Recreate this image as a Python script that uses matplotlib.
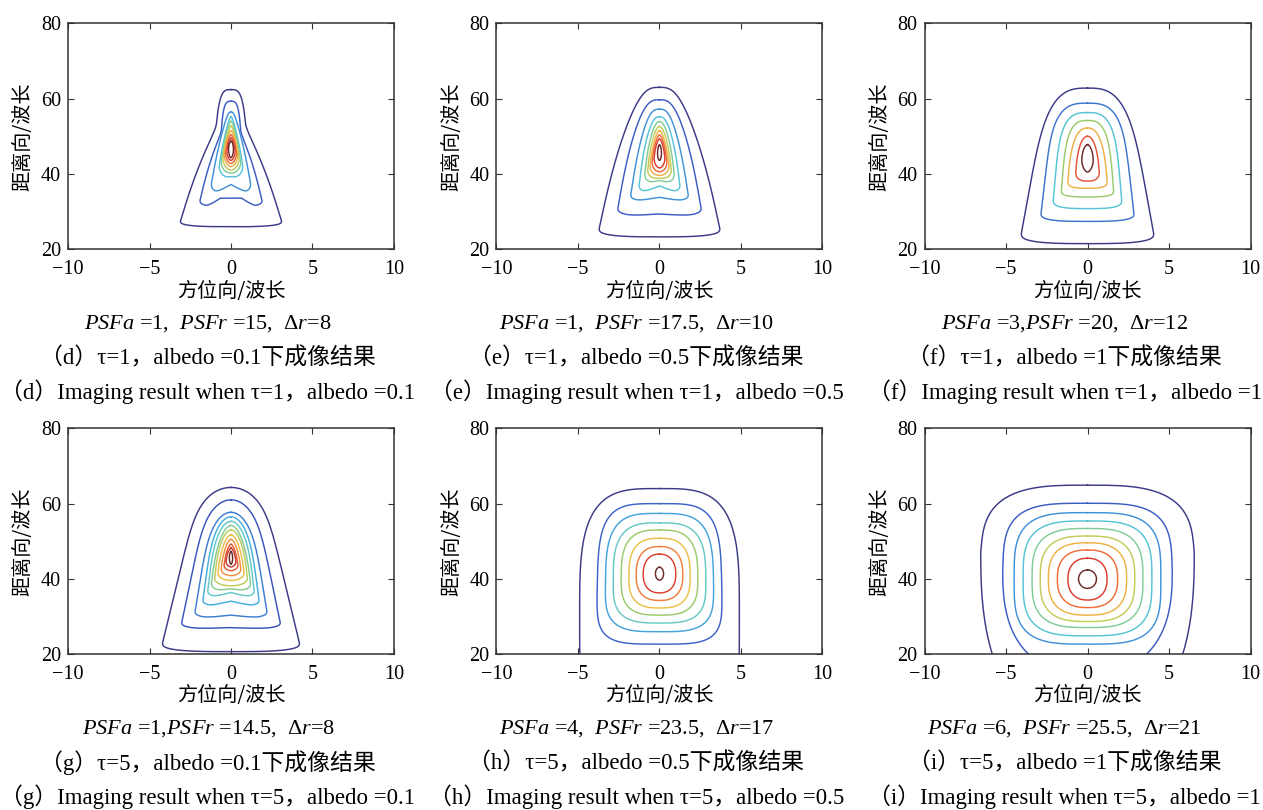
import numpy as np
import matplotlib
matplotlib.use("Agg")
import matplotlib.pyplot as plt
from matplotlib.colors import LinearSegmentedColormap

plt.rcParams['mathtext.fontset'] = 'custom'
plt.rcParams['mathtext.rm'] = 'Liberation Serif'
plt.rcParams['mathtext.it'] = 'Liberation Serif:italic'

SERIF = ['Liberation Serif', 'Noto Sans CJK SC']
CJK = ['Noto Sans CJK SC', 'Liberation Serif']

# ---------------- data ----------------
# per contour (outer -> inner): top y, bottom y, y of widest point, half width,
# taper of the upper part, cap exponents (y, x), lower exponent, bottom notch,
# optional narrow column (half width, top)
D_TOP = [54.0, 52.0, 56.5, 55.2, 54.0, 52.7, 51.4, 50.4, 49.5, 48.7]
D_BOT = [26.0, 31.3, 35.0, 38.8, 40.0, 41.0, 42.0, 42.8, 43.6, 44.3]
D_MID = [27.5, 33.0, 37.5, 42.0, 43.0, 44.0, 45.0, 45.5, 46.0, 46.5]
D_HW = [3.1, 1.9, 1.2, 0.72, 0.6, 0.5, 0.42, 0.34, 0.25, 0.15]
D_TAP = [0.6, 0.55, 0.65, 0.5, 0.45, 0.4, 0.3, 0.3, 0.2, 0.0]
D_NQ = [3, 3, 3, 2, 2, 2, 2, 2, 2, 2]
D_NP = [3, 3, 2.5, 1.7, 1.7, 1.7, 1.7, 1.7, 1.7, 1.7]
D_NL = [3, 3, 3, 2, 1.8, 1.8, 1.8, 1.8, 1.8, 1.8]
D_NOTCH = [0.0, 4.0, 2.2, 0.5, 0.3, 0.0, 0.0, 0.0, 0.0, 0.0]
D_COLW = [1.0, 0.65, 0, 0, 0, 0, 0, 0, 0, 0]
D_COLTOP = [62.4, 59.3, 0, 0, 0, 0, 0, 0, 0, 0]

E_TOP = [63.0, 59.7, 57.2, 55.2, 53.9, 52.6, 51.5, 50.3, 49.3, 47.7]
E_BOT = [23.3, 28.8, 32.8, 35.2, 37.5, 38.6, 39.6, 40.6, 41.6, 43.6]
E_MID = [25.5, 31.0, 34.5, 37.0, 40.0, 41.0, 42.0, 43.0, 44.0, 45.5]
E_HW = [3.7, 2.55, 1.76, 1.25, 0.9, 0.72, 0.58, 0.45, 0.33, 0.12]
E_TAP = [0.5, 0.45, 0.45, 0.4, 0.35, 0.3, 0.3, 0.25, 0.2, 0.0]
E_NQ = [3, 3, 3, 3, 2.5, 2.2, 2, 2, 2, 2]
E_NP = [3, 3, 3, 2.5, 2.2, 2, 1.8, 1.8, 1.7, 1.7]
E_NL = [3, 3, 3, 3, 2.5, 2.2, 2, 2, 1.8, 1.8]
E_NOTCH = [0.0, 0.6, 1.0, 1.6, 0.8, 0.3, 0.0, 0.0, 0.0, 0.0]

F_TOP = [62.8, 58.8, 56.3, 54.2, 52.2, 50.0, 47.8]
F_BOT = [21.5, 27.4, 30.8, 33.9, 36.2, 38.1, 40.5]
F_MID = [24.2, 29.5, 33.0, 35.5, 38.0, 40.5, 43.5]
F_HW = [4.06, 2.85, 2.1, 1.6, 1.2, 0.72, 0.35]
F_TAP = [0.4, 0.27, 0.22, 0.2, 0.2, 0.2, 0.0]
F_NQ = [6, 6, 5, 4, 3, 2.5, 2]
F_NP = [3, 3, 3, 3, 2.5, 2.2, 1.7]
F_NL = [3, 3, 3, 3, 3, 2.5, 1.7]
F_NOTCH = [0.0, 0.0, 0.0, 0.0, 0.0, 0.0, 0.0]

G_TOP = [64.3, 61.0, 57.7, 56.5, 55.3, 54.2, 53.0, 51.7, 50.5, 49.2, 48.2, 47.3]
G_BOT = [20.7, 26.7, 29.6, 32.8, 35.2, 36.8, 38.2, 39.6, 40.9, 42.2, 43.2, 43.9]
G_MID = [23.0, 28.5, 31.5, 34.5, 37.0, 38.8, 40.2, 41.5, 42.5, 43.5, 44.5, 45.5]
G_HW = [4.2, 3.02, 2.2, 1.72, 1.42, 1.2, 1.0, 0.8, 0.6, 0.42, 0.3, 0.1]
G_TAP = [0.55, 0.52, 0.45, 0.4, 0.35, 0.35, 0.3, 0.3, 0.25, 0.2, 0.15, 0.0]
G_NQ = [10, 8, 6, 5, 4, 3, 3, 2.5, 2.2, 2, 2, 2]
G_NP = [2, 2, 2, 2, 2, 2, 2, 2, 1.8, 1.7, 1.7, 1.7]
G_NL = [3, 3, 3, 3, 3, 2.5, 2.2, 2, 2, 1.8, 1.8, 1.8]
G_NOTCH = [0.0, 0.4, 0.8, 1.3, 1.2, 0.6, 0.0, 0.0, 0.0, 0.0, 0.0, 0.0]

H_TOP = [64.0, 60.0, 57.4, 54.9, 53.0, 50.8, 48.6, 46.6, 43.1]
H_BOT = [-30.0, 22.7, 26.0, 28.3, 30.4, 32.3, 34.3, 36.3, 39.7]
H_MID = [30.0, 36.0, 38.0, 39.0, 40.0, 40.5, 41.0, 41.2, 41.4]
H_HW = [4.9, 3.83, 3.32, 2.84, 2.35, 1.88, 1.43, 1.0, 0.25]
H_TAP = [0.0, 0.03, 0.02, 0.0, 0.0, 0.0, 0.0, 0.0, 0.0]
H_NQ = [3.5, 4.0, 3.5, 3.2, 3.0, 2.8, 2.5, 2.3, 2.0]
H_NP = [3.5, 4.0, 3.5, 3.2, 3.0, 2.8, 2.5, 2.3, 2.0]
H_NL = [3.0, 4.0, 3.5, 3.2, 3.0, 2.8, 2.5, 2.3, 2.0]
H_NOTCH = [0.0] * 9

I_TOP = [64.9, 60.1, 57.6, 55.4, 53.4, 51.4, 49.6, 47.7, 45.5, 42.4]
I_BOT = [0.0, 15.0, 22.7, 24.9, 27.1, 28.7, 30.4, 32.4, 34.4, 37.5]
I_MID = [47.0, 42.0, 40.0, 40.0, 40.0, 40.0, 40.0, 40.0, 40.0, 40.0]
I_HW = [6.55, 5.2, 4.5, 3.95, 3.4, 2.9, 2.4, 1.85, 1.2, 0.55]
I_TAP = [0.05, 0.02, 0.0, 0.0, 0.0, 0.0, 0.0, 0.0, 0.0, 0.0]
I_NQ = [3.2, 3.6, 3.5, 3.3, 3.1, 2.9, 2.7, 2.5, 2.3, 2.0]
I_NP = [3.2, 3.6, 3.5, 3.3, 3.1, 2.9, 2.7, 2.5, 2.3, 2.0]
I_NL = [2.5, 2.5, 3.5, 3.3, 3.1, 2.9, 2.7, 2.5, 2.3, 2.0]
I_NOTCH = [0.0] * 10

X_TICKS = [-10, -5, 0, 5, 10]
X_TICKLABELS = ['\u221210', '\u22125', '0', '5', '10']
Y_TICKS = [20, 40, 60, 80]
Y_TICKLABELS = ['20', '40', '60', '80']
X_LABEL = '方位向/波长'
Y_LABEL = '距离向/波长'

PSF_LINES = [
    r'$\mathit{PSFa}$ =1,  $\mathit{PSFr}$ =15,  Δ$\mathit{r}$=8',
    r'$\mathit{PSFa}$ =1,  $\mathit{PSFr}$ =17.5,  Δ$\mathit{r}$=10',
    r'$\mathit{PSFa}$ =3,$\mathit{PSFr}$ =20,  Δ$\mathit{r}$=12',
    r'$\mathit{PSFa}$ =1,$\mathit{PSFr}$ =14.5,  Δ$\mathit{r}$=8',
    r'$\mathit{PSFa}$ =4,  $\mathit{PSFr}$ =23.5,  Δ$\mathit{r}$=17',
    r'$\mathit{PSFa}$ =6,  $\mathit{PSFr}$ =25.5,  Δ$\mathit{r}$=21',
]
CN_CAPTIONS = [
    '（d）τ=1，albedo =0.1下成像结果',
    '（e）τ=1，albedo =0.5下成像结果',
    '（f）τ=1，albedo =1下成像结果',
    '（g）τ=5，albedo =0.1下成像结果',
    '（h）τ=5，albedo =0.5下成像结果',
    '（i）τ=5，albedo =1下成像结果',
]
EN_CAPTIONS = [
    '（d）Imaging result when τ=1，albedo =0.1',
    '（e）Imaging result when τ=1，albedo =0.5',
    '（f）Imaging result when τ=1，albedo =1',
    '（g）Imaging result when τ=5，albedo =0.1',
    '（h）Imaging result when τ=5，albedo =0.5',
    '（i）Imaging result when τ=5，albedo =1',
]

PANELS = [
    (D_TOP, D_BOT, D_MID, D_HW, D_TAP, D_NQ, D_NP, D_NL, D_NOTCH, D_COLW, D_COLTOP),
    (E_TOP, E_BOT, E_MID, E_HW, E_TAP, E_NQ, E_NP, E_NL, E_NOTCH, None, None),
    (F_TOP, F_BOT, F_MID, F_HW, F_TAP, F_NQ, F_NP, F_NL, F_NOTCH, None, None),
    (G_TOP, G_BOT, G_MID, G_HW, G_TAP, G_NQ, G_NP, G_NL, G_NOTCH, None, None),
    (H_TOP, H_BOT, H_MID, H_HW, H_TAP, H_NQ, H_NP, H_NL, H_NOTCH, None, None),
    (I_TOP, I_BOT, I_MID, I_HW, I_TAP, I_NQ, I_NP, I_NL, I_NOTCH, None, None),
]

JET_STOPS = ['#3b3a88', '#3b57bf', '#3e86d6', '#4bbfe4', '#70ccba',
             '#98cb6c', '#e6cb4a', '#f3a442', '#ec5f37', '#d8392e', '#6b2a28']
cmap = LinearSegmentedColormap.from_list('mjet', JET_STOPS)


def half_width(y, T, B, M, H, a, q, p, nl):
    w = np.zeros_like(y)
    up = (y >= M) & (y <= T)
    u = (y[up] - M) / (T - M)
    w[up] = H * (1 - a * u) * np.clip(1 - u ** q, 0, None) ** (1.0 / p)
    lo = (y < M) & (y >= B)
    v = (M - y[lo]) / (M - B)
    w[lo] = H * np.clip(1 - v ** nl, 0, None) ** (1.0 / nl)
    return w


def outline(T, B, M, H, a, q, p, nl, notch, cw, ct, n=1500):
    top = max(T, ct) if cw > 0 else T
    s = np.linspace(0, np.pi, n)
    y = B + (top - B) * (1 - np.cos(s)) / 2
    w = half_width(y, T, B, M, H, a, q, p, nl)
    if cw > 0:
        uc = np.clip((y - M) / (ct - M), 0, 1)
        wc = cw * np.clip(1 - uc ** 3.5, 0, None) ** (1 / 3.5)
        w = (w ** 6 + wc ** 6) ** (1 / 6)
    x = np.concatenate([w[::-1], -w])
    yy = np.concatenate([y[::-1], y])
    if notch > 0:
        g = np.clip((M - yy) / (M - B), 0, 1) ** 2
        f = np.clip(1 - np.abs(x) / (0.8 * H), 0, None)
        yy = yy + notch * f * g
    return x, yy


W, Hpx = 1263, 810
fig = plt.figure(figsize=(W / 100, Hpx / 100), dpi=100)

LEFTS = [68, 496.5, 924.5]
TOPS = [23.3, 428.3]
AW, AH = 326, 226

for idx, data in enumerate(PANELS):
    r, c = divmod(idx, 3)
    lx, ty = LEFTS[c], TOPS[r]
    ax = fig.add_axes([lx / W, 1 - (ty + AH) / Hpx, AW / W, AH / Hpx])
    T, B, M, HW, TAP, NQ, NP, NL, NOTCH, CW, CT = data
    n = len(T)
    for k in range(n):
        cw = CW[k] if CW is not None else 0
        ct = CT[k] if CT is not None else 0
        x, y = outline(T[k], B[k], M[k], HW[k], TAP[k], NQ[k], NP[k], NL[k],
                       NOTCH[k], cw, ct)
        ax.plot(x, y, color=cmap(k / (n - 1)), lw=1.05, solid_joinstyle='round')
    ax.set_xlim(-10, 10)
    ax.set_ylim(20, 80)
    ax.set_xticks(X_TICKS)
    ax.set_xticklabels(X_TICKLABELS)
    ax.set_yticks(Y_TICKS)
    ax.set_yticklabels(Y_TICKLABELS)
    ax.tick_params(direction='in', top=True, right=True, length=4, width=0.8,
                   labelsize=14.5, color='#333333')
    ax.tick_params(axis='x', pad=7.5)
    ax.tick_params(axis='y', pad=5)
    for lab in ax.get_xticklabels() + ax.get_yticklabels():
        lab.set_family('Liberation Serif')
    for sp in ax.spines.values():
        sp.set_color('#333333')
        sp.set_linewidth(1.1)

    cx = lx + AW / 2
    cy = ty + AH / 2
    fig.text(cx / W, 1 - (291 + r * 405) / Hpx, X_LABEL, family=CJK,
             fontsize=14.5, ha='center', va='center')
    fig.text((lx - 45) / W, 1 - cy / Hpx, Y_LABEL, family=CJK, fontsize=14.5,
             ha='center', va='center', rotation=90)
    capx = (cx - 23) / W
    fig.text(capx, 1 - (324 + r * 405) / Hpx, PSF_LINES[idx], family='Liberation Serif',
             fontsize=16, ha='center', va='center')
    fig.text(capx, 1 - (358 + r * 405) / Hpx, CN_CAPTIONS[idx], family=SERIF,
             fontsize=16.5, ha='center', va='center')
    fig.text(capx, 1 - (392 + r * 405) / Hpx, EN_CAPTIONS[idx], family=SERIF,
             fontsize=16.5, ha='center', va='center')

fig.savefig('out.png', dpi=100)
